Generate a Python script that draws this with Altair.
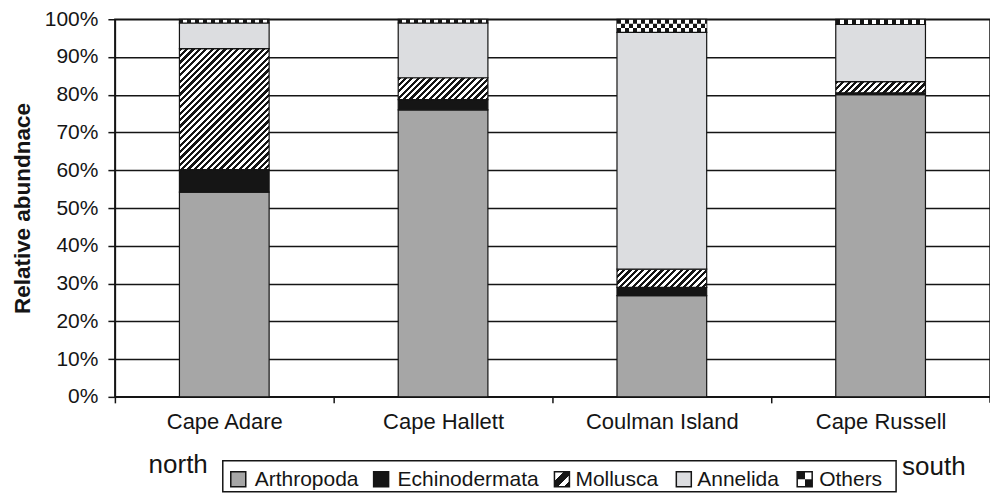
import altair as alt

# ---------------- data ----------------
sites = ["Cape Adare", "Cape Hallett", "Coulman Island", "Cape Russell"]
taxa = ["Arthropoda", "Echinodermata", "Mollusca", "Annelida", "Others"]
arthropoda = [54.2, 76.0, 26.8, 80.0]
echinodermata = [6.0, 2.7, 2.2, 0.5]
mollusca = [32.0, 5.8, 4.8, 3.0]
annelida = [6.8, 14.5, 62.7, 15.1]
others = [1.0, 1.0, 3.5, 1.4]
y_ticks = list(range(0, 101, 10))
y_title = "Relative abundnace"
left_note = "north"
right_note = "south"

# ---------------- style ----------------
W, H = 876, 378
TOP = 11
BAR_FRAC = 0.41
FONT = "Liberation Sans"
INK = "#151515"
STEP = W / len(sites)
BAR_W = STEP * BAR_FRAC
solid = {"Arthropoda": "#a6a6a6", "Echinodermata": "#151515", "Annelida": "#dcdde0"}


def _stripe_stops(n_periods, frac, c1, c2):
    p = 1.0 / n_periods
    stops = []
    i = 0
    while i * p < 1 - 1e-9:
        a = round(i * p, 5)
        b = round(min((i + frac) * p, 1.0), 5)
        e = round(min((i + 1) * p, 1.0), 5)
        stops += [{"offset": a, "color": c1}, {"offset": b, "color": c1}]
        if b < 1:
            stops += [{"offset": b, "color": c2}, {"offset": e, "color": c2}]
        i += 1
    return stops


def diag_stripes(w, h, period=6.4, frac=0.5):
    # stripes along lines x + y = const ("/" hatching) in pixel space
    c = (w + h) / (w * w + h * h)
    n = (w + h) / period
    return {"gradient": "linear", "x1": 0, "y1": 0, "x2": round(c * w, 6), "y2": round(c * h, 6),
            "stops": _stripe_stops(n, frac, INK, "#ffffff")}


def col_stripes(w, period=8.0, invert=False):
    c1, c2 = (INK, "#ffffff") if not invert else ("#ffffff", INK)
    return {"gradient": "linear", "x1": 0, "y1": 0, "x2": 1, "y2": 0,
            "stops": _stripe_stops(w / period, 0.5, c1, c2)}


series = [arthropoda, echinodermata, mollusca, annelida, others]
records = []
for order, (taxon, vals) in enumerate(zip(taxa, series)):
    for site, v in zip(sites, vals):
        h = v / 100 * H
        if taxon == "Mollusca":
            f = diag_stripes(BAR_W, h)
            f2 = f
        elif taxon == "Others":
            f = col_stripes(BAR_W)
            f2 = col_stripes(BAR_W, invert=True)
        else:
            f = solid[taxon]
            f2 = f
        records.append({"site": site, "taxon": taxon, "val": v, "order": order,
                        "fill": f, "fill2": f2})

x_enc = alt.X(
    "site:N", sort=sites,
    scale=alt.Scale(paddingInner=0, paddingOuter=0),
    axis=alt.Axis(title=None, labelAngle=0, tickOffset=-STEP / 2, labelOffset=STEP / 2,
                  tickSize=6, tickWidth=1.5, tickColor=INK, domainColor=INK, domainWidth=1.5,
                  labelPadding=9, labelFontSize=22, labelFont=FONT, labelColor=INK),
)
y_scale = alt.Scale(domain=[0, 100], nice=False)
y_axis = alt.Axis(values=y_ticks, labelExpr="datum.value + '%'", grid=True, gridColor=INK,
                  gridWidth=1.5, tickSize=7, tickWidth=1.5, tickColor=INK, domainColor=INK,
                  domainWidth=1.5, labelPadding=10, labelFontSize=21, labelFont=FONT,
                  labelColor=INK, title=y_title, titleFont=FONT, titleFontSize=22.5,
                  titleFontWeight="bold", titleColor=INK, titlePadding=10)

base = alt.Chart(alt.Data(values=records)).transform_stack(
    stack="val", as_=["y0", "y1"], groupby=["site"],
    sort=[alt.SortField("order", order="ascending")])

bars = base.mark_bar(width=alt.RelativeBandSize(BAR_FRAC), stroke=INK, strokeWidth=1.2).encode(
    x=x_enc,
    y=alt.Y("y0:Q", scale=y_scale, axis=y_axis),
    y2="y1:Q",
    fill=alt.Fill("fill:N", scale=None),
)

checker = base.transform_filter("datum.taxon == 'Others' && datum.val > 2").transform_calculate(
    ya="datum.y0 + datum.val / 3", yb="datum.y0 + 2 * datum.val / 3"
).mark_bar(width=alt.RelativeBandSize(BAR_FRAC), strokeWidth=0).encode(
    x=x_enc, y=alt.Y("ya:Q", scale=y_scale, axis=y_axis), y2="yb:Q",
    fill=alt.Fill("fill2:N", scale=None),
)

one = alt.Data(values=[{"k": 1}])
end_tick = alt.Chart(one).mark_rule(color=INK, strokeWidth=1.5).encode(
    x=alt.value(W), y=alt.value(H), y2=alt.value(H + 6))

# ---------------- manual legend (pixel offsets from plot origin) ----------------
D = 14 - (8 + TOP)  # shift so that page positions stay as measured
LEG_BOX = (108, 782, 447 + D, 478 + D)
SYM_X = [116, 259, 440, 562, 683]
TXT_X = [140, 283, 461, 583, 705]
SYM_Y, SYM = 458 + D, 15
TXT_Y = 466 + D

leg_layers = [alt.Chart(one).mark_rect(fill="white", stroke=INK, strokeWidth=1.5).encode(
    x=alt.value(LEG_BOX[0]), x2=alt.value(LEG_BOX[1]),
    y=alt.value(LEG_BOX[2]), y2=alt.value(LEG_BOX[3]))]

mollusca_sym = {"gradient": "linear", "x1": 0, "y1": 0, "x2": 1, "y2": 1, "stops": [
    {"offset": 0, "color": "#ffffff"}, {"offset": 0.3, "color": "#ffffff"},
    {"offset": 0.3, "color": INK}, {"offset": 0.62, "color": INK},
    {"offset": 0.62, "color": "#ffffff"}, {"offset": 0.82, "color": "#ffffff"},
    {"offset": 0.82, "color": INK}, {"offset": 1, "color": INK}]}
half = lambda c1, c2: {"gradient": "linear", "x1": 0, "y1": 0, "x2": 1, "y2": 0, "stops": [
    {"offset": 0, "color": c1}, {"offset": 0.5, "color": c1},
    {"offset": 0.5, "color": c2}, {"offset": 1, "color": c2}]}
sym_fills = [solid["Arthropoda"], solid["Echinodermata"], mollusca_sym, solid["Annelida"],
             half(INK, "#ffffff")]

for name, sx, tx, sf in zip(taxa, SYM_X, TXT_X, sym_fills):
    leg_layers.append(alt.Chart(one).mark_rect(fill=sf, strokeWidth=0).encode(
        x=alt.value(sx), x2=alt.value(sx + SYM), y=alt.value(SYM_Y), y2=alt.value(SYM_Y + SYM)))
    if name == "Others":
        leg_layers.append(alt.Chart(one).mark_rect(fill=half("#ffffff", INK), strokeWidth=0).encode(
            x=alt.value(sx), x2=alt.value(sx + SYM),
            y=alt.value(SYM_Y + SYM / 2), y2=alt.value(SYM_Y + SYM)))
    leg_layers.append(alt.Chart(one).mark_rect(fillOpacity=0, stroke=INK, strokeWidth=1.5).encode(
        x=alt.value(sx), x2=alt.value(sx + SYM), y=alt.value(SYM_Y), y2=alt.value(SYM_Y + SYM)))
    leg_layers.append(alt.Chart(one).mark_text(
        text=name, align="left", baseline="middle", font=FONT, fontSize=21, color=INK).encode(
        x=alt.value(tx), y=alt.value(TXT_Y)))

north = alt.Chart(one).mark_text(text=left_note, align="right", baseline="alphabetic",
                                 font=FONT, fontSize=26, color=INK).encode(
    x=alt.value(93), y=alt.value(459 + D))
south = alt.Chart(one).mark_text(text=right_note, align="left", baseline="alphabetic",
                                 font=FONT, fontSize=26, color=INK).encode(
    x=alt.value(788), y=alt.value(461 + D))

chart = alt.layer(bars, checker, end_tick, *leg_layers, north, south).properties(
    width=W, height=H, autosize="none",
    padding={"left": 107, "top": TOP, "right": 0, "bottom": 494 - 8 - TOP - H},
).configure_view(stroke=INK, strokeWidth=1.5)

chart.save("out.html", embed_options={"renderer": "svg", "actions": False})
